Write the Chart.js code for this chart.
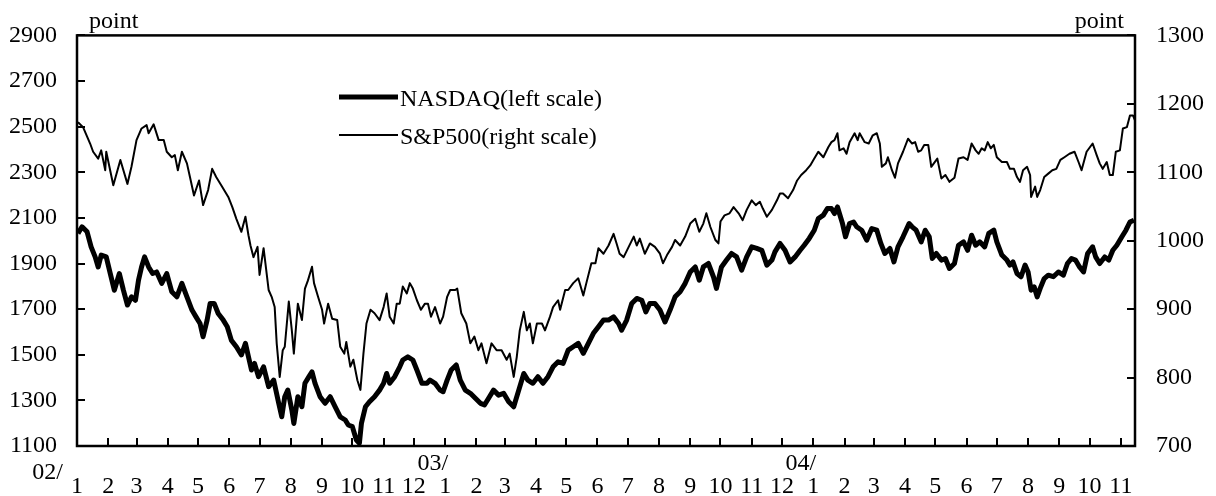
<!DOCTYPE html>
<html>
<head>
<meta charset="utf-8">
<script src="https://cdn.jsdelivr.net/npm/chart.js@4.4.1/dist/chart.umd.min.js"></script>
<style>
  html, body { margin: 0; padding: 0; background: #fff; }
  #wrap { width: 1216px; height: 496px; }
</style>
</head>
<body>
<div id="wrap"><canvas id="indexChart"></canvas></div>
<script>
// x values are days counted from 2002-01-01
const nasdaqDays = [
  1,5,10,14,18,21,24,29,33,37, 42,46,50,54,58,61,64,67,71,75, 79,84,89,94,99,104,109,114,118,122,
  125,129,132,136,140,145,149,153,158,163, 167,170,173,
  176,180,185,190,195,200,203,206,209,213, 215,219,223,226,230,233,236,241,246,251,
  256,261,266,269,273,277,280,282,286,290, 295,300,304,307,310,315,320,323,328,333, 337,342,347,350,
  355,360,363,367,371,376,380,385,390,395, 400,404,409,413,418,423,428,433,438,443,
  447,452,457,462,467,472,477,482,487,492, 497,502,507,512,517,522,
  527,532,537,540,545,550,555,560,564,568, 573,578,583,588,593,598,603,608,613,617,
  621,626,631,634,639,644,649,654,659,664, 669,674,679,684,689,
  692,697,702,707,712,717,721,726,731,735, 740,744,748,751,754,759,762,766,770,773,
  778,783,788,793,797,801,806,810,814,819, 825,828,832,837,841,845,848,852,857,861, 865,870,
  874,879,883,887,891,895,900,904,909,912, 917,922,925,928,932,936,940,943,946,949,
  952,955,959,963,968,973,978,982,986,990, 994,998,1002,1007,1010,1014,1019,1023,1027,1031,
  1036,1040,1044,1048
];
const nasdaqValues = [
  2032,2061,2039,1973,1929,1885,1937,1929,1856,1783, 1856,1783,1718,1754,1739,1827,1885,1929,1885,1856,
  1863,1813,1856,1776,1754,1813,1754,1696,1666,1637, 1579,1652,1725,1725,1681,1652,1623,1564,1535,1499,
  1550,1491,1433,
  1462,1404,1447,1360,1389,1287,1228,1316,1345,1258, 1199,1316,1272,1375,1404,1425,1375,1316,1287,1316,
  1272,1228,1214,1192,1185,1126,1112,1199,1272,1294, 1316,1345,1375,1418,1375,1404,1447,1477,1491,1477,
  1433,1375,1375,1389,
  1375,1345,1338,1389,1433,1455,1389,1345,1331,1309, 1287,1280,1316,1345,1323,1331,1294,1272,1345,1418,
  1389,1375,1404,1375,1404,1447,1469,1462,1520,1535, 1550,1506,1550,1594,1623,1652,
  1652,1666,1637,1608,1652,1725,1747,1739,1688,1725, 1725,1696,1644,1696,1754,1776,1813,1863,1885,1827,
  1885,1900,1842,1791,1885,1915,1944,1929,1871,1929, 1973,1966,1958,1893,1915,
  1951,1988,1958,1907,1929,1958,1980,2010,2046,2097, 2112,2141,2141,2119,2148,2075,2017,2075,2082,2061,
  2046,2002,2053,2046,1988,1944,1966,1907,1973,2017, 2075,2061,2046,1995,2046,2017,1922,1944,1915,1922,
  1878,1900,
  1980,1995,1958,2024,1980,1995,1973,2032,2046,1995, 1937,1915,1893,1907,1856,1842,1893,1863,1783,1798,
  1754,1791,1834,1849,1842,1863,1849,1900,1922,1915, 1885,1863,1944,1973,1929,1900,1929,1915,1958,1980,
  2017,2046,2082,2090
];

const spDays = [
  1,6,13,16,21,24,28,29,36,43, 50,54,59,64,69,71,76,81,86,89, 94,97,100,104,109,112,116,121,125,130,
  134,138,143,150,154,158,163,167,170,
  172,175,179,181,185,190,193,196,198,201, 204,206,210,213,215,219,223,226,229,233,
  235,239,243,245,249,253,258,261,265,267, 271,274,278,281,284,287,291,295,300,304,
  307,310,314,317,320,323,327,330,333,337, 341,345,
  348,351,355,360,363,367,370,375,377,381, 386,390,394,398,401,406,411,416,421,426,
  429,433,436,439,443,446,449,452,456,461, 464,469,472,477,479,484,487,492,497,502, 505,510,514,517,522,
  527,532,535,538,542,547,552,555,558,563, 568,573,578,581,585,590,593,598,603,608,
  613,617,621,624,628,633,636,638,642,647, 651,656,660,664,669,673,677,680,684,689, 694,697,
  700,705,710,714,718,723,727,731,735,740, 745,748,751,754,756,760,763,766,771,774,
  776,781,785,789,793,796,798,802,804,808, 811,814,819,824,828,831,834,837,840,844, 847,853,857,861,865,870,
  874,879,883,887,891,894,897,900,903,906, 909,912,917,922,925,929,932,935,938,942,
  945,946,950,952,955,959,963,967,971,975, 979,984,989,993,996,1001,1007,1011,1014,1017,
  1021,1024,1027,1030,1034,1037,1041,1044,1047,1049
];
const spValues = [
  1173,1166,1142,1130,1120,1132,1103,1130,1081,1118, 1083,1108,1147,1164,1169,1157,1170,1147,1147,1130,
  1122,1125,1103,1130,1113,1093,1066,1088,1052,1074, 1105,1093,1081,1064,1049,1032,1013,1035,1008,
  993,976,991,950,989,928,918,903,850,801, 840,845,911,869,835,908,884,930,942,962,
  938,918,899,879,908,886,884,845,835,852, 816,826,796,782,835,879,899,894,884,903,
  923,889,879,908,908,933,923,938,930,913, 899,908,
  908,889,903,879,889,918,928,928,930,894, 879,850,860,840,850,821,850,840,840,826,
  835,801,830,869,896,869,879,850,879,879, 869,889,903,913,899,928,928,938,945,920, 938,967,967,989,981,
  993,1010,996,981,976,991,1006,993,1003,981, 996,991,981,967,979,991,1001,993,1006,1025,
  1032,1013,1025,1040,1020,1001,996,1028,1037,1040, 1049,1040,1030,1045,1059,1052,1057,1047,1035,1045,
  1059,1069,
  1069,1062,1074,1088,1096,1103,1110,1120,1130,1122, 1137,1144,1147,1157,1132,1135,1127,1144,1157,1147,
  1157,1144,1142,1154,1157,1142,1108,1113,1122,1103, 1092,1113,1130,1149,1142,1144,1130,1132,1140,1140,
  1108,1120,1091,1096,1086,1092,
  1120,1122,1118,1142,1132,1127,1135,1132,1144,1135, 1140,1122,1115,1115,1105,1105,1093,1086,1103,1108,
  1096,1064,1079,1064,1074,1093,1098,1103,1105,1118, 1122,1127,1130,1115,1103,1130,1142,1125,1113,1105,
  1115,1096,1096,1130,1132,1164,1166,1183,1183,1176
];

const monthLabels = ['1','2','3','4','5','6','7','8','9','10','11','12',
                     '1','2','3','4','5','6','7','8','9','10','11','12',
                     '1','2','3','4','5','6','7','8','9','10','11'];
const yearLabels = ['02/', '03/', '04/'];
const unitLabel = 'point';

const DAY = 86400000;
const origin = Date.UTC(2002, 0, 1);
const monthDays = monthLabels.map((m, i) => (Date.UTC(2002 + Math.floor(i / 12), i % 12, 1) - origin) / DAY);
const yearDays = yearLabels.map((y, i) => monthDays[i * 12]);

const FONT = "'Liberation Serif', 'Times New Roman', serif";
Chart.defaults.font.family = FONT;
Chart.defaults.color = '#000';

const frame = {
  id: 'frame',
  afterDatasetsDraw(chart) {
    const { ctx, chartArea: a, scales } = chart;
    ctx.save();
    ctx.strokeStyle = '#000';
    ctx.lineWidth = 2.5;
    ctx.strokeRect(a.left, a.top, a.right - a.left, a.bottom - a.top);
    ctx.lineWidth = 2;
    ctx.beginPath();
    scales.y.ticks.forEach(t => {
      const py = Math.round(scales.y.getPixelForValue(t.value));
      ctx.moveTo(a.left, py); ctx.lineTo(a.left + 8, py);
    });
    scales.y1.ticks.forEach(t => {
      const py = Math.round(scales.y1.getPixelForValue(t.value));
      ctx.moveTo(a.right, py); ctx.lineTo(a.right - 8, py);
    });
    scales.x.ticks.forEach(t => {
      const px = Math.round(scales.x.getPixelForValue(t.value));
      ctx.moveTo(px, a.bottom); ctx.lineTo(px, a.bottom - 8);
    });
    ctx.stroke();
    ctx.restore();
  },
  afterDraw(chart) {
    const { ctx, chartArea: a, scales } = chart;
    ctx.save();
    ctx.fillStyle = '#000';
    ctx.font = '24px ' + FONT;
    ctx.textBaseline = 'alphabetic';

    // unit labels
    ctx.textAlign = 'left';
    ctx.fillText(unitLabel, a.left + 12, a.top - 7);
    ctx.textAlign = 'right';
    ctx.fillText(unitLabel, a.right - 11, a.top - 7);

    // year prefixes
    yearLabels.forEach((lab, k) => {
      const px = scales.x.getPixelForValue(yearDays[k]);
      if (k === 0) ctx.fillText(lab, px - 14, a.bottom + 33);
      else ctx.fillText(lab, px + 3, a.bottom + 24);
    });

    // legend
    ctx.textAlign = 'left';
    chart.data.datasets.forEach((ds, i) => {
      const y = 97 + i * 38;
      ctx.strokeStyle = ds.borderColor;
      ctx.lineWidth = ds.borderWidth;
      ctx.beginPath();
      ctx.moveTo(339, y); ctx.lineTo(398, y);
      ctx.stroke();
      ctx.fillText(ds.label, 400, y + 9);
    });
    ctx.restore();
  }
};

new Chart(document.getElementById('indexChart'), {
  type: 'line',
  data: {
    datasets: [{
      label: 'NASDAQ(left scale)',
      data: nasdaqDays.map((d, i) => ({ x: d, y: nasdaqValues[i] })),
      yAxisID: 'y',
      borderColor: '#000',
      borderWidth: 5,
      pointRadius: 0,
      tension: 0,
      borderJoinStyle: 'round'
    }, {
      label: 'S&P500(right scale)',
      data: spDays.map((d, i) => ({ x: d, y: spValues[i] })),
      yAxisID: 'y1',
      borderColor: '#000',
      borderWidth: 2,
      pointRadius: 0,
      tension: 0,
      borderJoinStyle: 'round'
    }]
  },
  options: {
    responsive: true,
    maintainAspectRatio: false,
    animation: false,
    devicePixelRatio: 1,
    layout: { padding: { top: 35, left: 0, right: 0, bottom: 0 } },
    plugins: { legend: { display: false }, tooltip: { enabled: false } },
    scales: {
      x: {
        type: 'linear',
        position: 'bottom',
        min: 0,
        max: 1049,
        afterBuildTicks: s => { s.ticks = monthDays.map(v => ({ value: v })); },
        afterFit: s => { s.height = 50; },
        grid: { display: false, drawTicks: false },
        border: { display: false },
        ticks: {
          autoSkip: false,
          maxRotation: 0,
          padding: 26,
          font: { size: 24 },
          callback: (v, i) => monthLabels[i]
        }
      },
      y: {
        position: 'left',
        min: 1100,
        max: 2900,
        afterFit: s => { s.width = 77; },
        grid: { display: false, drawTicks: false },
        border: { display: false },
        ticks: { stepSize: 200, padding: 20, font: { size: 24 }, callback: v => String(v) }
      },
      y1: {
        position: 'right',
        min: 700,
        max: 1300,
        afterFit: s => { s.width = 81; },
        grid: { display: false, drawTicks: false },
        border: { display: false },
        ticks: { stepSize: 100, padding: 21, font: { size: 24 }, callback: v => String(v) }
      }
    }
  },
  plugins: [frame]
});
</script>
</body>
</html>
